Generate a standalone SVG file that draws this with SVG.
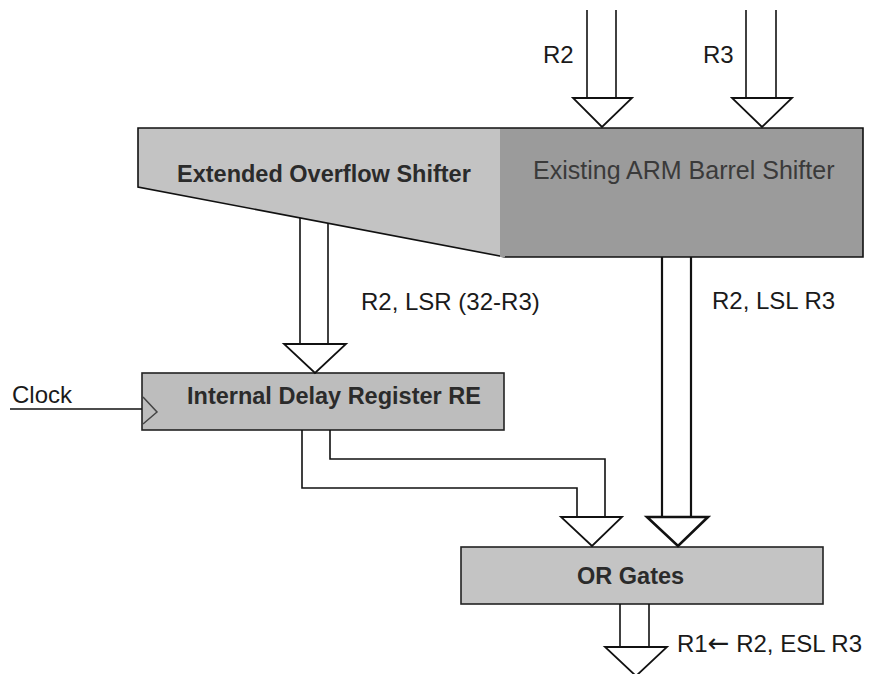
<svg xmlns="http://www.w3.org/2000/svg" width="875" height="674" viewBox="0 0 875 674">
  <style>
    .lbl { font-family: "Liberation Sans", Arial, sans-serif; font-size: 24px; fill: #1a1a1a; }
    .blk { font-family: "Liberation Sans", Arial, sans-serif; font-size: 23.5px; font-weight: bold; fill: #2b2b2b; }
    .reg { font-family: "Liberation Sans", Arial, sans-serif; font-size: 25px; fill: #3a3a3a; }
    .line { fill: none; stroke: #111; stroke-width: 1.6; }
    .head { fill: #fff; stroke: #111; stroke-width: 1.8; stroke-linejoin: miter; }
    .box { stroke: #222; stroke-width: 1.6; }
  </style>
  <rect width="875" height="674" fill="#fff"/>

  <!-- Shifter block: extended overflow part (light) and barrel shifter (dark) -->
  <g id="extended-overflow-shifter">
    <polygon points="138,128 500,128 500,256 138,187" fill="#c3c3c3"/>
    <polyline class="line" points="500,128 138,128 138,187 505,257"/>
    <text class="blk" x="177" y="182">Extended Overflow Shifter</text>
  </g>
  <g id="arm-barrel-shifter">
    <rect x="500" y="128" width="363" height="129" fill="#9b9b9b"/>
    <polyline class="line" points="500,128 863,128 863,257 505,257"/>
    <text class="reg" x="533" y="179">Existing ARM Barrel Shifter</text>
  </g>

  <g id="delay-register">
    <rect class="box" x="142" y="373" width="362" height="57" fill="#bdbdbd"/>
    <polyline points="143,397 157,412 143,424" fill="none" stroke="#444" stroke-width="1.5"/>
    <text class="blk" x="187" y="404">Internal Delay Register RE</text>
  </g>

  <g id="or-gates">
    <rect class="box" x="461" y="547" width="362" height="57" fill="#c4c4c4"/>
    <text class="blk" x="577" y="584">OR Gates</text>
  </g>

  <g id="connectors">
    <!-- R2 input bus -->
    <line class="line" x1="587" y1="10" x2="587" y2="98"/>
    <line class="line" x1="616" y1="10" x2="616" y2="98"/>
    <polygon class="head" points="573,98 632,98 602,127"/>
    <!-- R3 input bus -->
    <line class="line" x1="746" y1="10" x2="746" y2="98"/>
    <line class="line" x1="776" y1="10" x2="776" y2="98"/>
    <polygon class="head" points="732,98 792,98 762,127"/>

    <!-- extended shifter to delay register -->
    <line class="line" x1="300" y1="218" x2="300" y2="344"/>
    <line class="line" x1="328" y1="223" x2="328" y2="344"/>
    <polygon class="head" points="284,344 346,344 315,373"/>

    <!-- barrel shifter to OR gates -->
    <line x1="662" y1="257" x2="662" y2="517" stroke="#111" stroke-width="2.2"/>
    <line x1="691" y1="257" x2="691" y2="517" stroke="#111" stroke-width="2.2"/>
    <polygon points="647,517 708,517 678,546" fill="#fff" stroke="#111" stroke-width="2.6"/>

    <!-- delay register to OR gates -->
    <polyline class="line" points="302,430 302,488 577,488 577,517"/>
    <polyline class="line" points="330,430 330,459 605,459 605,517"/>
    <polygon class="head" points="561,517 622,517 592,546"/>

    <!-- OR gates output -->
    <line class="line" x1="620" y1="604" x2="620" y2="647"/>
    <line class="line" x1="649" y1="604" x2="649" y2="647"/>
    <polygon class="head" points="605,647 667,647 636,676"/>

    <!-- clock input -->
    <line class="line" x1="10" y1="409" x2="142" y2="409"/>
  </g>

  <g id="labels">
    <text class="lbl" x="543" y="63">R2</text>
    <text class="lbl" x="703" y="63">R3</text>
    <text class="lbl" x="361" y="310">R2, LSR (32-R3)</text>
    <text class="lbl" x="712" y="309">R2, LSL R3</text>
    <text class="lbl" x="12" y="403">Clock</text>
    <text class="lbl" x="677" y="652">R1<tspan font-family="'DejaVu Sans', sans-serif" font-size="26">←</tspan> R2, ESL R3</text>
  </g>
</svg>
